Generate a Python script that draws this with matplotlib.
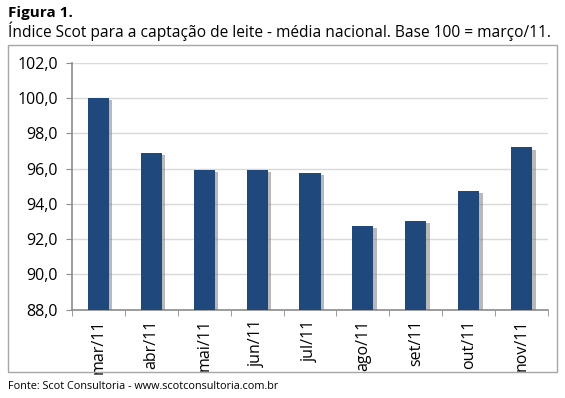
import matplotlib
matplotlib.use("Agg")
from matplotlib import pyplot as plt
from matplotlib.patches import Rectangle
import matplotlib.patheffects as pe
import numpy as np

plt.rcParams['font.family'] = ['Open Sans', 'DejaVu Sans']

months = ["mar/11", "abr/11", "mai/11", "jun/11", "jul/11",
          "ago/11", "set/11", "out/11", "nov/11"]
index_values = [100.0, 96.9, 95.92, 95.92, 95.78, 92.76, 93.04, 94.75, 97.2]
y_ticks = [88, 90, 92, 94, 96, 98, 100, 102]

fig = plt.figure(figsize=(5.65, 3.98), dpi=100)

# outer frame around the chart
fig.patches.append(Rectangle((0.014, 0.065), 0.972, 0.822, transform=fig.transFigure,
                             fill=False, edgecolor="#a6a6a6", linewidth=1.0))

ax = fig.add_axes([0.1274, 0.222, 0.8425, 0.620])
x = np.arange(len(months))
bars = ax.bar(x, index_values, width=0.4, color="#1f497d", zorder=3,
              path_effects=[pe.SimplePatchShadow(offset=(2.5, -1.5), shadow_rgbFace="#808080",
                                                 alpha=0.55), pe.Normal()])

ax.set_ylim(88, 102)
ax.set_xlim(-0.5, len(months) - 0.5)
ax.set_yticks(y_ticks)
ax.set_yticklabels([f"{v:.1f}".replace(".", ",") for v in y_ticks], fontsize=11.5)
ax.yaxis.grid(True, color="#d9d9d9", linewidth=1.0, zorder=0)
ax.set_axisbelow(True)

# category labels centered, tick marks at boundaries
ax.set_xticks(x)
ax.set_xticklabels(months, rotation=90, fontsize=11.5)
ax.tick_params(axis="x", length=0, pad=7)
ax.set_xticks(np.arange(-0.5, len(months) + 0.5, 1), minor=True)
ax.tick_params(axis="x", which="minor", length=4, color="#8c8c8c", direction="out")
ax.tick_params(axis="y", length=4, color="#8c8c8c", direction="out", pad=6)

for s in ["top", "right"]:
    ax.spines[s].set_visible(False)
for s in ["left", "bottom"]:
    ax.spines[s].set_color("#8c8c8c")
    ax.spines[s].set_linewidth(1.2)

fig.text(0.014, 0.968, "Figura 1.", fontsize=11, fontweight="bold", va="center", ha="left")
fig.text(0.014, 0.922, "Índice Scot para a captação de leite - média nacional. Base 100 = março/11.",
         fontsize=11.2, va="center", ha="left")
fig.text(0.014, 0.030, "Fonte: Scot Consultoria - www.scotconsultoria.com.br",
         fontsize=7.8, va="center", ha="left")

fig.savefig("out.png", dpi=100)
